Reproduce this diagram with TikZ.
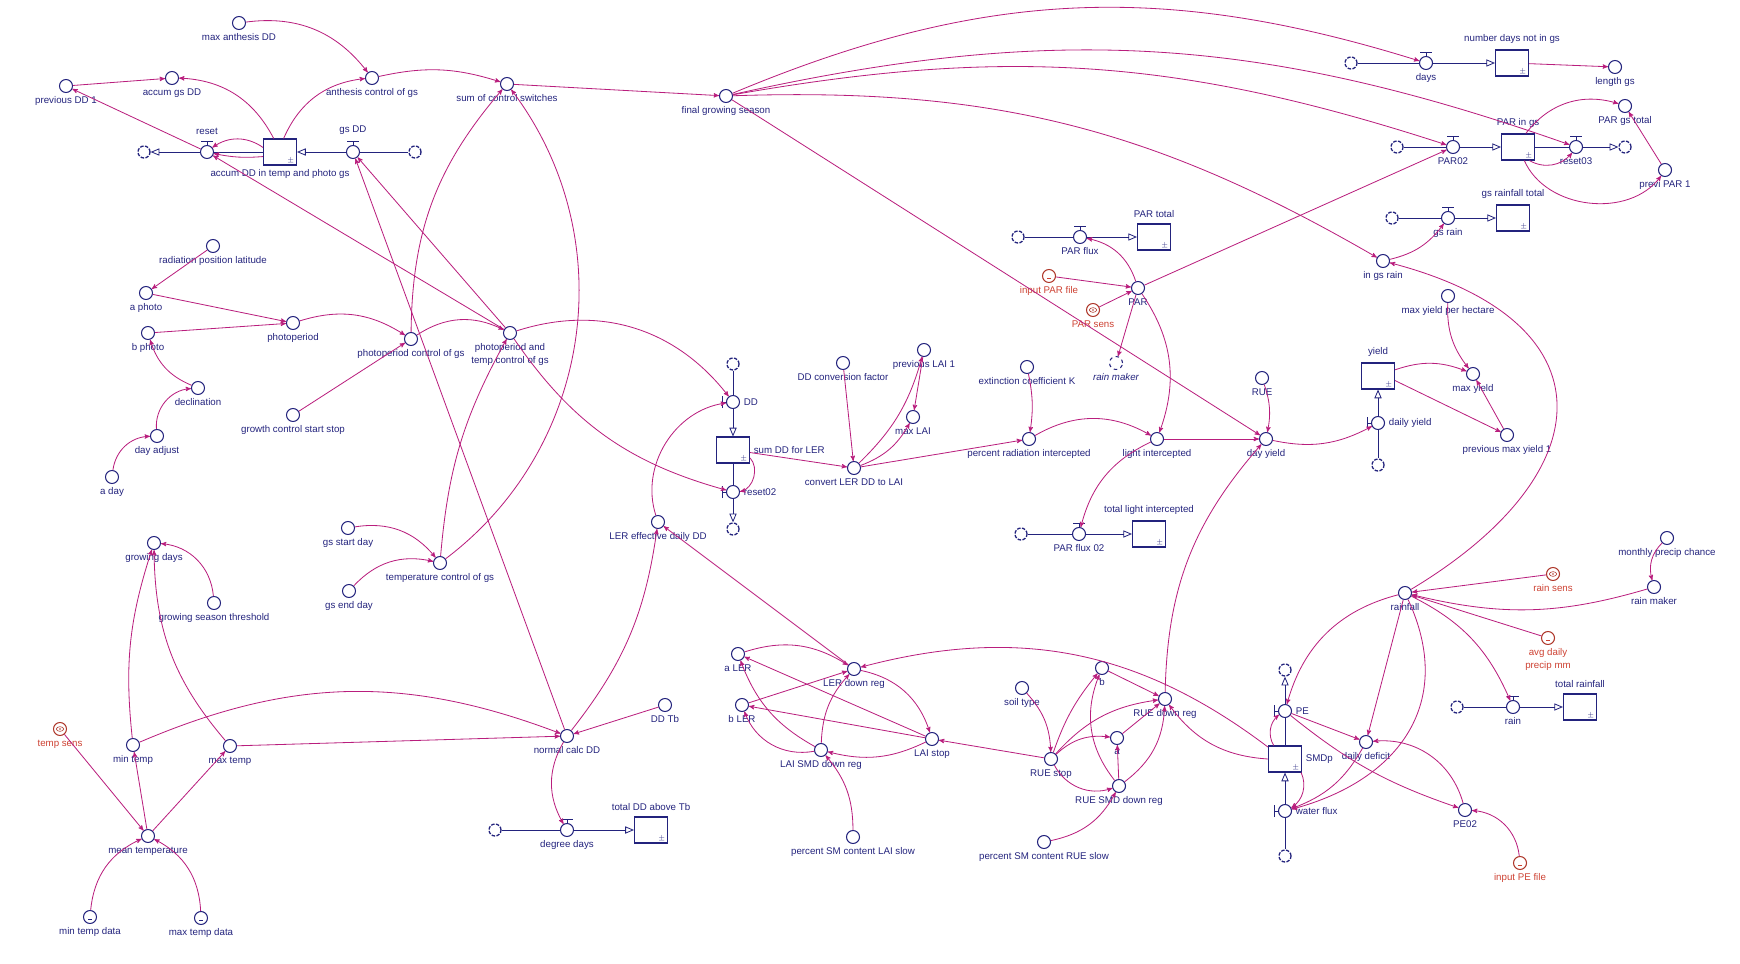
\documentclass[tikz,border=0pt]{standalone}
\usepackage{fontspec}
\setmainfont{Liberation Sans}
\usetikzlibrary{arrows}
\definecolor{navy}{RGB}{35,35,125}
\definecolor{plum}{RGB}{185,30,125}
\definecolor{brick}{RGB}{205,65,50}
\newcommand\sdfont{\fontsize{8.3pt}{11pt}\selectfont}
\tikzset{
  var/.style = {circle, draw=navy, line width=0.9pt, minimum size=3.9mm, inner sep=0pt},
  valve/.style = {var},
  redvar/.style = {var, draw=brick!85!black},
  gvar/.style = {var, path picture={\draw[navy, line width=0.5pt]
      ([shift={(-0.5mm,-0.8mm)}]path picture bounding box.center) -- ++(1mm,0);}},
  redgvar/.style = {redvar, path picture={\draw[brick, line width=0.5pt]
      ([shift={(-0.5mm,-0.8mm)}]path picture bounding box.center) -- ++(1mm,0);}},
  sens/.style = {redvar, path picture={\draw[brick!85!black, line width=0.5pt]
      (path picture bounding box.center) ellipse (1.1mm and 0.7mm);
      \fill[brick!85!black] (path picture bounding box.center) circle (0.25mm);}},
  ghost/.style = {var, dashed},
  stock/.style = {rectangle, draw=navy, line width=0.9pt, minimum width=9.9mm,
    minimum height=7.8mm, inner sep=0pt},
  cloud/.style = {circle, draw=navy, line width=1.1pt, minimum size=3.6mm, inner sep=0pt,
    dash pattern=on 3pt off 1.2pt},
  pm/.style = {font=\fontsize{6pt}{6pt}\selectfont, text=navy, inner sep=0pt},
  pipe/.style = {draw=navy, line width=0.7pt},
  flow/.style = {pipe, arrows={-open triangle 45}},
  conn/.style = {draw=plum, line width=0.7pt, ->, >=stealth'},
  every label/.style = {text=navy, inner sep=0.5pt},
  label distance=0.9mm
}
\begin{document}
\begin{tikzpicture}[x=0.3mm, y=0.3mm, font=\sdfont]
\useasboundingbox (0,0) rectangle (1740,-964);

% growing season switches
\node[var, label=below:max anthesis DD] (maxanth) at (239,-23) {};
\node[var, label=below:previous DD 1] (prevdd) at (66,-86) {};
\node[var, label=below:accum gs DD] (accumgs) at (172,-78) {};
\node[var, label=below:anthesis control of gs] (anthesis) at (372,-78) {};
\node[cloud] (cloudA) at (144,-152) {};
\node[valve, label={[label distance=2.8mm]above:reset}] (reset) at (207,-152) {};
\node[stock, label=below:accum DD in temp and photo gs] (accum) at (280,-152) {};
\node[valve, label={[label distance=2.8mm]above:gs DD}] (gsdd) at (353,-152) {};
\node[cloud] (cloudB) at (415,-152) {};
\node[var, label=below:sum of control switches] (sumsw) at (507,-84) {};
\node[var, label=below:final growing season] (fgs) at (726,-96) {};

\node[var, label=below:radiation position latitude] (radlat) at (213,-246) {};
\node[var, label=below:a photo] (aphoto) at (146,-293) {};
\node[var, label=below:photoperiod] (photoperiod) at (293,-323) {};
\node[var, label=below:b photo] (bphoto) at (148,-333) {};
\node[var, label=below:declination] (declination) at (198,-388) {};
\node[var, label=below:day adjust] (dayadj) at (157,-436) {};
\node[var, label=below:a day] (aday) at (112,-477) {};
\node[var, label=below:growth control start stop] (growth) at (293,-415) {};
\node[var, label=below:photoperiod control of gs] (ppctrl) at (411,-339) {};
\node[var, label={[align=center]below:photoperiod and\\temp control of gs}] (pptemp) at (510,-333) {};

% temperature
\node[var, label=below:growing days] (growdays) at (154,-543) {};
\node[var, label=below:growing season threshold] (gsthresh) at (214,-603) {};
\node[var, label=below:gs start day] (gsstart) at (348,-528) {};
\node[var, label=below:gs end day] (gsend) at (349,-591) {};
\node[var, label=below:temperature control of gs] (tempctrl) at (440,-563) {};
\node[sens, label={[text=brick]below:temp sens}] (tempsens) at (60,-729) {};
\node[var, label=below:min temp] (mintemp) at (133,-745) {};
\node[var, label=below:max temp] (maxtemp) at (230,-746) {};
\node[var, label=below:mean temperature] (meantemp) at (148,-836) {};
\node[gvar, label=below:min temp data] (mintd) at (90,-917) {};
\node[gvar, label=below:max temp data] (maxtd) at (201,-918) {};
\node[var, label=below:normal calc DD] (normdd) at (567,-736) {};
\node[var, label=below:DD Tb] (ddtb) at (665,-705) {};
\node[cloud] (cloudC) at (495,-830) {};
\node[valve, label=below:degree days] (degdays) at (567,-830) {};
\node[stock, label={[label distance=1.4mm]above:total DD above Tb}] (totdd) at (651,-830) {};

% degree days for leaf expansion
\node[var, label=below:LER effective daily DD] (lereff) at (658,-522) {};
\node[cloud] (cloudD) at (733,-364) {};
\node[valve, label=right:DD] (dd) at (733,-402) {};
\node[stock, label=right:sum DD for LER] (sumdd) at (733,-450) {};
\node[valve, label=right:reset02] (reset02) at (733,-492) {};
\node[cloud] (cloudE) at (733,-529) {};
\node[var, label=below:DD conversion factor] (ddconv) at (843,-363) {};
\node[var, label=below:convert LER DD to LAI] (convert) at (854,-468) {};
\node[var, label=below:previous LAI 1] (prevlai) at (924,-350) {};
\node[var, label=below:max LAI] (maxlai) at (913,-417) {};
\node[var, label=below:extinction coefficient K] (extk) at (1027,-367) {};
\node[var, label=below:percent radiation intercepted] (pctrad) at (1029,-439) {};
\node[var, label=below:light intercepted] (lightint) at (1157,-439) {};
\node[var, label=below:RUE] (rue) at (1262,-378) {};
\node[var, label=below:day yield] (dayyield) at (1266,-439) {};
\node[ghost, label={[font=\sdfont\itshape]below:rain maker}] (rmghost) at (1116,-363) {};

% PAR
\node[cloud] (cloudF) at (1018,-237) {};
\node[valve, label=below:PAR flux] (parflux) at (1080,-237) {};
\node[stock, label={[label distance=1.4mm]above:PAR total}] (partotal) at (1154,-237) {};
\node[redgvar, label={[text=brick]below:input PAR file}] (inputpar) at (1049,-276) {};
\node[var, label=below:PAR] (par) at (1138,-288) {};
\node[sens, label={[text=brick]below:PAR sens}] (parsens) at (1093,-310) {};
\node[cloud] (cloudG) at (1021,-534) {};
\node[valve, label=below:PAR flux 02] (parflux02) at (1079,-534) {};
\node[stock, label={[label distance=1.4mm]above:total light intercepted}] (totlight) at (1149,-534) {};

% season totals
\node[cloud] (cloudH) at (1351,-63) {};
\node[valve, label=below:days] (days) at (1426,-63) {};
\node[stock, label={[label distance=1.4mm]above:number days not in gs}] (ndays) at (1512,-63) {};
\node[var, label=below:length gs] (lengthgs) at (1615,-67) {};
\node[cloud] (cloudI) at (1397,-147) {};
\node[valve, label=below:PAR02] (par02) at (1453,-147) {};
\node[stock, label={[label distance=1.4mm]above:PAR in gs}] (paring) at (1518,-147) {};
\node[valve, label=below:reset03] (reset03) at (1576,-147) {};
\node[cloud] (cloudJ) at (1625,-147) {};
\node[var, label=below:PAR gs total] (pargstot) at (1625,-106) {};
\node[var, label=below:previ PAR 1] (prevpar) at (1665,-170) {};
\node[cloud] (cloudK) at (1392,-218) {};
\node[valve, label=below:gs rain] (gsrain) at (1448,-218) {};
\node[stock, label={[label distance=1.4mm]above:gs rainfall total}] (gsrtot) at (1513,-218) {};
\node[var, label=below:in gs rain] (ingsrain) at (1383,-261) {};
\node[var, label=below:max yield per hectare] (maxyph) at (1448,-296) {};

% yield
\node[stock, label={[label distance=1.4mm]above:yield}] (yield) at (1378,-376) {};
\node[valve, label=right:daily yield] (dailyyield) at (1378,-423) {};
\node[cloud] (cloudL) at (1378,-465) {};
\node[var, label=below:max yield] (maxyield) at (1473,-374) {};
\node[var, label=below:previous max yield 1] (prevmaxy) at (1507,-435) {};

% rain and soil water
\node[var, label=below:monthly precip chance] (monthly) at (1667,-538) {};
\node[var, label=below:rain maker] (rainmaker) at (1654,-587) {};
\node[sens, label={[text=brick]below:rain sens}] (rainsens) at (1553,-574) {};
\node[var, label=below:rainfall] (rainfall) at (1405,-593) {};
\node[redgvar, label={[text=brick, align=center]below:avg daily\\precip mm}] (avgprecip) at (1548,-638) {};
\node[cloud] (cloudM) at (1457,-707) {};
\node[valve, label=below:rain] (rain) at (1513,-707) {};
\node[stock, label={[label distance=1.4mm]above:total rainfall}] (totrain) at (1580,-707) {};
\node[var, label=below:daily deficit] (dailydef) at (1366,-742) {};
\node[var, label=below:PE02] (pe02) at (1465,-810) {};
\node[redgvar, label={[text=brick]below:input PE file}] (inputpe) at (1520,-863) {};
\node[cloud] (cloudN) at (1285,-670) {};
\node[valve, label=right:PE] (pe) at (1285,-711) {};
\node[stock, label=right:SMDp] (smdp) at (1285,-759) {};
\node[valve, label=right:water flux] (waterflux) at (1285,-811) {};
\node[cloud] (cloudO) at (1285,-856) {};

% down regulation
\node[var, label=below:a LER] (aler) at (738,-654) {};
\node[var, label=below:b LER] (bler) at (742,-705) {};
\node[var, label=below:LER down reg] (lerdown) at (854,-669) {};
\node[var, label=below:LAI SMD down reg] (laismd) at (821,-750) {};
\node[var, label=below:percent SM content LAI slow] (pctlai) at (853,-837) {};
\node[var, label=below:LAI stop] (laistop) at (932,-739) {};
\node[var, label=below:soil type] (soil) at (1022,-688) {};
\node[var, label=below:RUE stop] (ruestop) at (1051,-759) {};
\node[var, label=below:b] (bnode) at (1102,-668) {};
\node[var, label=below:RUE down reg] (ruedown) at (1165,-699) {};
\node[var, label=below:a] (anode) at (1117,-738) {};
\node[var, label=below:RUE SMD down reg] (ruesmd) at (1119,-786) {};
\node[var, label=below:percent SM content RUE slow] (pctrue) at (1044,-842) {};

% valve bars and stock marks
\foreach \v in {reset,gsdd,days,par02,reset03,gsrain,parflux,parflux02,degdays,rain}
  \draw[pipe] (\v.north) -- ++(0,4) ++(-6,0) -- ++(12,0);
\foreach \v in {dd,reset02,dailyyield,pe,waterflux}
  \draw[pipe] (\v.west) -- ++(-4,0) ++(0,-6) -- ++(0,12);
\foreach \s in {accum,ndays,paring,gsrtot,partotal,totlight,sumdd,yield,totdd,smdp,totrain}
  \node[pm] (\s-pm) at ([shift={(-1.9mm,1.5mm)}]\s.south east) {$\pm$};

% flows
\draw[pipe] (cloudB) -- (gsdd);  \draw[flow] (gsdd) -- (accum);
\draw[pipe] (accum) -- (reset);  \draw[flow] (reset) -- (cloudA);
\draw[pipe] (cloudH) -- (days);  \draw[flow] (days) -- (ndays);
\draw[pipe] (cloudI) -- (par02); \draw[flow] (par02) -- (paring);
\draw[pipe] (paring) -- (reset03); \draw[flow] (reset03) -- (cloudJ);
\draw[pipe] (cloudK) -- (gsrain); \draw[flow] (gsrain) -- (gsrtot);
\draw[pipe] (cloudF) -- (parflux); \draw[flow] (parflux) -- (partotal);
\draw[pipe] (cloudG) -- (parflux02); \draw[flow] (parflux02) -- (totlight);
\draw[pipe] (cloudC) -- (degdays); \draw[flow] (degdays) -- (totdd);
\draw[pipe] (cloudM) -- (rain); \draw[flow] (rain) -- (totrain);
\draw[pipe] (cloudD) -- (dd); \draw[flow] (dd) -- (sumdd);
\draw[pipe] (sumdd) -- (reset02); \draw[flow] (reset02) -- (cloudE);
\draw[pipe] (cloudL) -- (dailyyield); \draw[flow] (dailyyield) -- (yield);
\draw[pipe] (cloudO) -- (waterflux); \draw[flow] (waterflux) -- (smdp);
\draw[pipe] (smdp) -- (pe); \draw[flow] (pe) -- (cloudN);

% connectors: growing season
\draw[conn] (maxanth) to[bend left=30] (anthesis);
\draw[conn] (prevdd) -- (accumgs);
\draw[conn] (accum.115) to[bend right=30] (accumgs);
\draw[conn] (accum.75) to[bend left=30] (anthesis);
\draw[conn] (anthesis) to[bend left=15] (sumsw);
\draw[conn] (accum.165) to[bend right=35] (reset);
\draw[conn] (accum.195) to[bend left=8] (reset);
\draw[conn] (reset) -- (prevdd);
\draw[conn] (pptemp) -- (reset);
\draw[conn] (normdd) -- (gsdd);
\draw[conn] (pptemp) -- (gsdd);
\draw[conn] (sumsw) -- (fgs);
\draw[conn] (ppctrl) to[bend left=20] (sumsw);
\draw[conn] (tempctrl) to[bend right=45] (sumsw);
\draw[conn] (ppctrl) to[bend left=30] (pptemp);
\draw[conn] (tempctrl) to[bend left=12] (pptemp);
\draw[conn] (pptemp) to[bend left=35] (dd);
\draw[conn] (pptemp) to[bend right=20] (reset02);
\draw[conn] (radlat) -- (aphoto);
\draw[conn] (aphoto) -- (photoperiod);
\draw[conn] (bphoto) -- (photoperiod);
\draw[conn] (declination) to[bend left=25] (bphoto);
\draw[conn] (dayadj) to[bend left=45] (declination);
\draw[conn] (aday) to[bend left=40] (dayadj);
\draw[conn] (photoperiod) to[bend left=25] (ppctrl);
\draw[conn] (growth) -- (ppctrl);

% connectors: temperature
\draw[conn] (gsthresh) to[bend right=40] (growdays);
\draw[conn] (mintemp) to[bend left=12] (growdays);
\draw[conn] (maxtemp) to[bend left=20] (growdays);
\draw[conn] (gsstart) to[bend left=30] (tempctrl);
\draw[conn] (gsend) to[bend left=30] (tempctrl);
\draw[conn] (tempsens) -- (meantemp);
\draw[conn] (meantemp) -- (mintemp);
\draw[conn] (meantemp) -- (maxtemp);
\draw[conn] (mintd) to[bend left=30] (meantemp);
\draw[conn] (maxtd) to[bend right=30] (meantemp);
\draw[conn] (mintemp) to[bend left=22] (normdd);
\draw[conn] (maxtemp) -- (normdd);
\draw[conn] (ddtb) -- (normdd);
\draw[conn] (normdd) to[bend right=30] (degdays);
\draw[conn] (normdd) to[bend right=15] (lereff);

% connectors: LAI, light and yield
\draw[conn] (lereff) to[bend left=50] (dd);
\draw[conn] (lerdown) -- (lereff);
\draw[conn] (sumdd) -- (convert);
\draw[conn] (sumdd.-25) to[bend left=60] (reset02);
\draw[conn] (ddconv) -- (convert);
\draw[conn] (convert) to[bend right=15] (prevlai);
\draw[conn] (convert) to[bend right=20] (maxlai);
\draw[conn] (prevlai) -- (maxlai);
\draw[conn] (convert) -- (pctrad);
\draw[conn] (extk) to[bend left=10] (pctrad);
\draw[conn] (pctrad) to[bend left=30] (lightint);
\draw[conn] (par) to[bend left=27] (lightint);
\draw[conn] (lightint) to[bend right=25] (parflux02);
\draw[conn] (lightint) -- (dayyield);
\draw[conn] (rue) to[bend left=15] (dayyield);
\draw[conn] (fgs) -- (dayyield);
\draw[conn] (ruedown) to[bend left=20] (dayyield);
\draw[conn] (dayyield) to[bend right=20] (dailyyield);
\draw[conn] (yield.20) to[bend left=20] (maxyield);
\draw[conn] (yield.-15) -- (prevmaxy);
\draw[conn] (prevmaxy) -- (maxyield);
\draw[conn] (maxyph) to[bend right=20] (maxyield);
\draw[conn] (par) to[bend right=30] (parflux);
\draw[conn] (inputpar) -- (par);
\draw[conn] (parsens) -- (par);
\draw[conn] (par) -- (rmghost);
\draw[conn] (par) -- (par02);

% connectors: season totals
\draw[conn] (fgs) to[bend left=20] (days);
\draw[conn] (fgs) to[bend left=16] (reset03);
\draw[conn] (fgs) to[bend left=14] (par02);
\draw[conn] (fgs) to[bend left=16] (ingsrain);
\draw[conn] (paring.60) to[bend left=35] (pargstot);
\draw[conn] (paring.-50) to[bend right=40] (reset03);
\draw[conn] (paring.-65) to[bend right=60] (prevpar);
\draw[conn] (prevpar) -- (pargstot);
\draw[conn] (ndays) -- (lengthgs);
\draw[conn] (ingsrain) to[bend right=20] (gsrain);
\draw[conn] (rainfall) .. controls +(200,120) and +(230,-60) .. (ingsrain);

% connectors: rain and soil water
\draw[conn] (monthly) to[bend right=30] (rainmaker);
\draw[conn] (rainmaker) to[bend left=15] (rainfall);
\draw[conn] (rainsens) -- (rainfall);
\draw[conn] (avgprecip) -- (rainfall);
\draw[conn] (rainfall) to[bend left=20] (rain);
\draw[conn] (rainfall) -- (dailydef);
\draw[conn] (rainfall) to[out=-65, in=15, looseness=1.2] (waterflux);
\draw[conn] (rainfall) to[bend right=30] (pe);
\draw[conn] (smdp.130) to[bend left=40] (pe);
\draw[conn] (smdp.west) to[bend left=25] (ruedown);
\draw[conn] (smdp.145) to[bend right=26] (lerdown);
\draw[conn] (smdp.-40) to[bend left=40] (waterflux);
\draw[conn] (dailydef) to[bend left=20] (waterflux);
\draw[conn] (pe) -- (dailydef);
\draw[conn] (pe) to[bend right=10] (pe02);
\draw[conn] (pe02) to[bend right=40] (dailydef);
\draw[conn] (inputpe) to[bend right=40] (pe02);

% connectors: down regulation
\draw[conn] (lerdown) to[bend left=30] (laistop);
\draw[conn] (laistop) -- (aler);
\draw[conn] (laistop) -- (bler);
\draw[conn] (laistop) to[bend left=20] (laismd);
\draw[conn] (aler) to[bend left=25] (lerdown);
\draw[conn] (bler) -- (lerdown);
\draw[conn] (laismd) to[bend left=20] (lerdown);
\draw[conn] (laismd) to[bend left=20] (aler);
\draw[conn] (laismd) to[bend left=40] (bler);
\draw[conn] (pctlai) to[bend right=20] (laismd);
\draw[conn] (soil) to[bend left=20] (ruestop);
\draw[conn] (ruestop) -- (laistop);
\draw[conn] (ruestop) to[bend left=10] (bnode);
\draw[conn] (ruestop) to[bend left=20] (ruedown);
\draw[conn] (ruestop) to[bend left=25] (anode);
\draw[conn] (ruestop) to[bend right=40] (ruesmd);
\draw[conn] (bnode) -- (ruedown);
\draw[conn] (anode) -- (ruedown);
\draw[conn] (ruesmd) -- (anode);
\draw[conn] (ruesmd) to[bend left=30] (bnode);
\draw[conn] (ruesmd) to[bend right=25] (ruedown);
\draw[conn] (pctrue) to[bend right=25] (ruesmd);
\end{tikzpicture}
\end{document}
